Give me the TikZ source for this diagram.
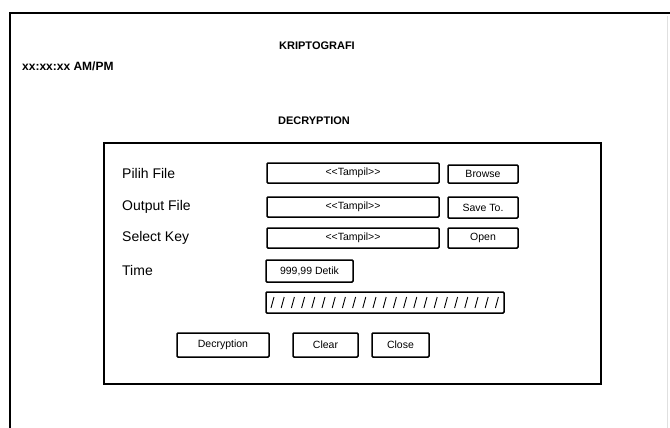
\documentclass[tikz,border=0pt]{standalone}
\usepackage{fontspec}
\setmainfont{Liberation Sans}
\begin{document}
\begin{tikzpicture}[x=1pt,y=-1pt,
  box/.style={draw,line width=1.5pt,rounded corners=1pt,inner sep=0pt},
  field/.style={box,minimum width=172pt,minimum height=20pt,font=\fontsize{10.5}{11}\selectfont},
  btn/.style={box,minimum height=20pt,font=\fontsize{10.5}{12}\selectfont},
  lbl/.style={anchor=west,inner sep=0pt,font=\fontsize{14}{16}\selectfont},
  head/.style={inner sep=0pt,font=\fontsize{11}{13}\selectfont\bfseries}]
  \useasboundingbox (0,0) rectangle (670,428);
  % window frame
  \draw[line width=1.8pt] (10,428) -- (10,13) -- (670,13);
  \draw[black!12] (667,16) -- (667,428);
  \node[head] (title) at (317,46) {KRIPTOGRAFI};
  \node[head,anchor=west,font=\fontsize{12}{13}\selectfont\bfseries] (clock) at (22,66) {xx:xx:xx AM/PM};
  \node[head] (mode) at (314,121) {DECRYPTION};
  % form panel
  \draw[line width=1.6pt] (104,143) rectangle (601,384);
  \node[lbl] (lfile) at (122,173) {Pilih File};
  \node[lbl] (lout) at (122,207) {Output File};
  \node[lbl] (lkey) at (122,238) {Select Key};
  \node[lbl] (ltime) at (122,270) {Time};
  \node[field] (ffile) at (353,173) {{<}{<}Tampil{>}{>}};
  \node[field] (fout) at (353,207) {{<}{<}Tampil{>}{>}};
  \node[field] (fkey) at (353,238) {{<}{<}Tampil{>}{>}};
  \node[btn,minimum width=70pt,minimum height=18pt] (browse) at (483,174) {Browse};
  \node[btn,minimum width=70pt,minimum height=21pt] (save) at (483,207.5) {Save To.};
  \node[btn,minimum width=70pt] (open) at (483,238) {Open};
  \node[btn,minimum width=87pt,minimum height=22pt] (timebox) at (309.5,271) {999,99 Detik};
  % progress bar
  \node[box,minimum width=238pt,minimum height=21pt] (bar) at (385,302.5) {};
  \foreach \i in {0,...,22}
    \draw[line width=0.9pt] ({271+\i*10.2},308) -- ({274+\i*10.2},297);
  \node[btn,minimum width=92pt,minimum height=24pt] (decrypt) at (223,345) {Decryption};
  \node[btn,minimum width=65pt,minimum height=24pt] (clear) at (325.5,345) {Clear};
  \node[btn,minimum width=57pt,minimum height=24pt] (close) at (400.5,345) {Close};
\end{tikzpicture}
\end{document}
